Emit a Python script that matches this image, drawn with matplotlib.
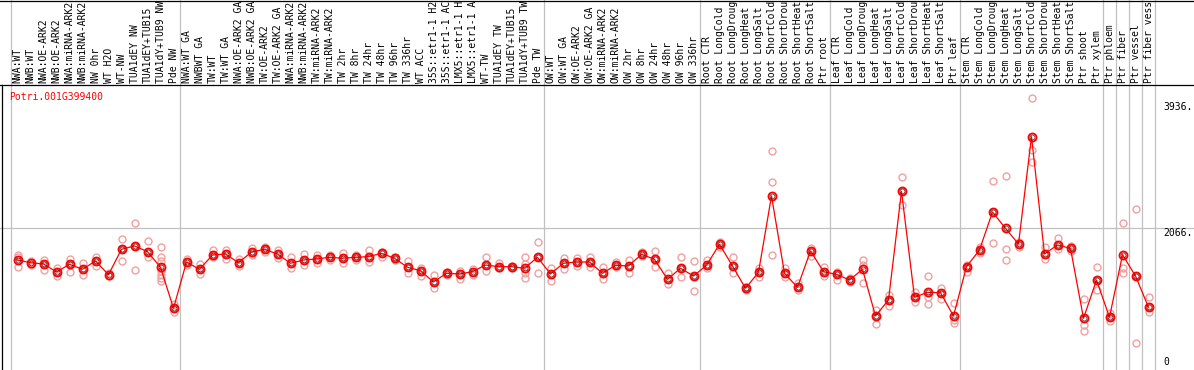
import matplotlib
matplotlib.use("Agg")
import matplotlib.pyplot as plt
from matplotlib.lines import Line2D

gene = "Potri.001G399400"

labels = ["NWA:WT", "NWB:WT", "NWA:OE-ARK2", "NWB:OE-ARK2", "NWA:miRNA-ARK2", "NWB:miRNA-ARK2",
          "NW 0hr", "WT H2O", "WT-NW", "TUA1dEY NW", "TUA1dEY+TUB15", "TUA1dY+TUB9 NW", "Pde NW",
          "NWA:WT GA", "NWBWT GA", "TW:WT", "TW:WT GA", "NWA:OE-ARK2 GA", "NWB:OE-ARK2 GA",
          "TW:OE-ARK2", "TW:OE-ARK2 GA", "NWA:miRNA-ARK2", "NWB:miRNA-ARK2", "TW:miRNA-ARK2",
          "TW:miRNA-ARK2", "TW 2hr", "TW 8hr", "TW 24hr", "TW 48hr", "TW 96hr", "TW 336hr",
          "WT ACC", "35S::etr1-1 H2", "35S::etr1-1 AC", "LMX5::etr1-1 H", "LMX5::etr1-1 A",
          "WT-TW", "TUA1dEY TW", "TUA1dEY+TUB15", "TUA1dY+TUB9 TW", "Pde TW",
          "OW:WT", "OW:WT GA", "OW:OE-ARK2", "OW:OE-ARK2 GA", "OW:miRNA-ARK2", "OW:miRNA-ARK2",
          "OW 2hr", "OW 8hr", "OW 24hr", "OW 48hr", "OW 96hr", "OW 336hr",
          "Root CTR", "Root LongCold", "Root LongDroug", "Root LongHeat", "Root LongSalt",
          "Root ShortCold", "Root ShortDrou", "Root ShortHeat", "Root ShortSalt", "Ptr root",
          "Leaf CTR", "Leaf LongCold", "Leaf LongDroug", "Leaf LongHeat", "Leaf LongSalt",
          "Leaf ShortCold", "Leaf ShortDrou", "Leaf ShortHeat", "Leaf ShortSalt", "Ptr leaf",
          "Stem CTR", "Stem LongCold", "Stem LongDroug", "Stem LongHeat", "Stem LongSalt",
          "Stem ShortCold", "Stem ShortDrou", "Stem ShortHeat", "Stem ShortSalt",
          "Ptr shoot", "Ptr xylem", "Ptr phloem", "Ptr fiber", "Ptr vessel", "Ptr fiber vess"]

means = [1611, 1572, 1554, 1439, 1549, 1477, 1597, 1400, 1765, 1813, 1731, 1506, 916,
         1582, 1477, 1683, 1697, 1572, 1726, 1765, 1697, 1564, 1611, 1626, 1650, 1636,
         1650, 1659, 1707, 1636, 1506, 1457, 1295, 1420, 1410, 1443, 1539, 1515, 1515,
         1492, 1650, 1410, 1564, 1582, 1582, 1420, 1535, 1525, 1693, 1621, 1333, 1492,
         1381, 1535, 1837, 1525, 1204, 1434, 2532, 1420, 1218, 1741, 1443, 1405, 1323,
         1477, 806, 1036, 2599, 1075, 1146, 1141, 806, 1515, 1755, 2302, 2066, 1841,
         3385, 1697, 1827, 1779, 772, 1323, 787, 1687, 1381, 931]

replicates = [
    [1683, 1654, 1510], [1601, 1544], [1611, 1554, 1467], [1492, 1439, 1381],
    [1621, 1549, 1443], [1564, 1477, 1395], [1650, 1597, 1525], [1420, 1381],
    [1909, 1765, 1601], [2139, 1813, 1467], [1880, 1731, 1650],
    [1794, 1650, 1601, 1457, 1395, 1348, 1313], [978, 916, 867],
    [1621, 1582, 1544], [1554, 1477, 1410], [1755, 1683, 1650], [1755, 1697, 1621],
    [1621, 1572, 1525], [1779, 1726, 1683], [1802, 1765, 1731], [1755, 1697, 1636],
    [1650, 1564, 1492], [1697, 1611, 1539], [1683, 1626, 1572], [1683, 1650, 1611],
    [1716, 1636, 1564], [1683, 1650, 1611], [1755, 1659, 1587], [1731, 1707, 1659],
    [1659, 1636, 1611], [1597, 1506, 1420], [1492, 1457, 1381], [1395, 1295, 1204],
    [1443, 1420, 1395], [1457, 1410, 1333], [1477, 1443, 1395], [1659, 1539, 1457],
    [1572, 1515, 1492], [1530, 1515, 1501], [1659, 1554, 1428, 1348], [1874, 1650, 1420],
    [1492, 1410, 1313], [1636, 1564, 1477], [1636, 1582, 1525], [1650, 1582, 1506],
    [1506, 1420, 1333], [1582, 1535, 1515], [1611, 1525, 1420], [1731, 1693, 1669],
    [1745, 1621, 1506], [1428, 1333, 1266], [1659, 1492, 1362], [1597, 1381, 1170],
    [1611, 1535, 1492], [1874, 1837, 1802], [1650, 1525, 1428], [1227, 1204, 1180],
    [1492, 1434, 1371], [3175, 2733, 1679], [1492, 1420, 1371], [1276, 1218, 1180],
    [1779, 1741, 1669], [1515, 1443, 1381], [1443, 1405, 1323], [1348, 1323, 1299],
    [1611, 1539, 1276], [892, 806, 690], [1108, 1036, 949], [2809, 2599, 2402],
    [1155, 1075, 1011], [1381, 1083, 978], [1204, 1141, 1046], [988, 748, 701],
    [1544, 1515, 1443], [1794, 1755, 1707], [2752, 2302, 1851], [2819, 1765, 1611],
    [1874, 1841, 1802], [3936, 3193, 3025], [1802, 1697, 1621], [1923, 1827, 1765],
    [1817, 1779, 1741], [1046, 676, 594], [1515, 1323, 1180], [844, 787, 734],
    [2139, 1492, 1420], [2345, 1381, 413], [1083, 931, 867],
]

group_edges = [0, 13, 41, 53, 63, 73, 84, 85, 86, 87, 88]
ref_value = 2066
scale_labels = ["3936.", "2066.", "0"]

W, H = 1194, 370
LAB = 85
MONO = "DejaVu Sans Mono"
GREY = "#c0c0c0"

fig = plt.figure(figsize=(W / 100, H / 100), dpi=100)
ax = fig.add_axes([0, 0, 1, (H - LAB) / H])
axl = fig.add_axes([0, (H - LAB) / H, 1, LAB / H])
x0, x1 = -17.5 / 13, (W - 17.5) / 13
for a in (ax, axl):
    a.set_xlim(x0, x1)
    a.axis("off")
ax.set_ylim(28.8, 4128)
axl.set_ylim(LAB, 0)

for k in group_edges:
    ax.axvline(k - 0.5, color=GREY, lw=0.9, zorder=0)
    axl.axvline(k - 0.5, color=GREY, lw=0.9, zorder=0)
ax.axhline(ref_value, color=GREY, lw=0.9, zorder=0)

# frame lines
fig.add_artist(Line2D([0, 1], [(H - LAB) / H] * 2, color="black", lw=0.9, transform=fig.transFigure))
fig.add_artist(Line2D([0, 1], [1 - 0.5 / H] * 2, color="black", lw=0.9, transform=fig.transFigure))
fig.add_artist(Line2D([1.5 / W] * 2, [0, (H - LAB) / H], color="black", lw=0.9, transform=fig.transFigure))

for i, lab in enumerate(labels):
    axl.text(i, 83, lab, rotation=90, ha="center", va="bottom", fontsize=7,
             family=MONO, color="black", clip_on=True)

for i, r in enumerate(replicates):
    ax.plot([i] * len(r), r, "o", mfc="none", mec="#f0a0a0", ms=5, mew=1.0, zorder=2)

xs = list(range(len(means)))
ax.plot(xs, means, "-", color="red", lw=0.9, zorder=3)
ax.plot(xs, means, "o", mfc="none", mec="red", ms=5.8, mew=1.3, zorder=4)
ax.plot(xs, means, "o", mfc="none", mec="#600000", ms=3.6, mew=0.5, zorder=5)

fig.text(9 / W, 1 - 97 / H, gene, color="red", fontsize=7, family=MONO, ha="left", va="center")
for lab, ypx in zip(scale_labels, [107, 232.5, 362]):
    fig.text(1163 / W, 1 - ypx / H, lab, color="black", fontsize=7, family=MONO,
             ha="left", va="center")

fig.savefig("out.png", dpi=100)
